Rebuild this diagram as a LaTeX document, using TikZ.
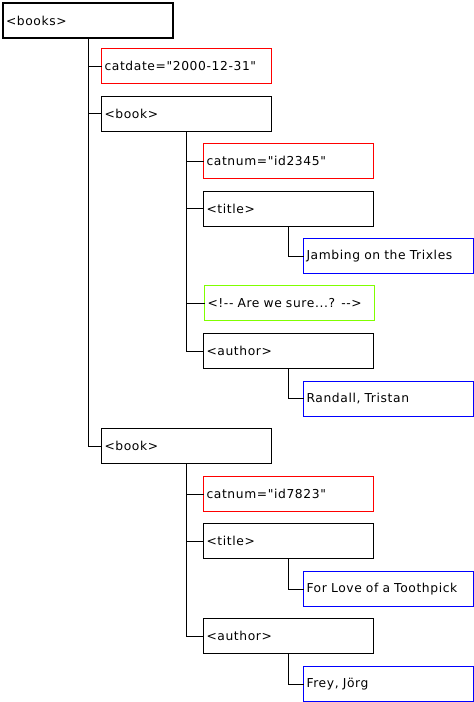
\documentclass[tikz,border=0pt]{standalone}
\usepackage{fontspec}
\newfontfamily\plainfont{DejaVu Sans}[LetterSpace=5]
\definecolor{attrred}{RGB}{255,0,0}
\definecolor{textblue}{RGB}{0,0,255}
\definecolor{commgreen}{RGB}{128,255,0}
\begin{document}
\begin{tikzpicture}[x=1pt,y=-1pt,
  box/.style={draw=black,line width=1pt,anchor=north west,inner xsep=3pt,inner ysep=0pt,
    text width=164pt,align=left,minimum height=35pt,outer sep=0pt,font=\plainfont\fontsize{12.3}{14}\selectfont},
  rootbox/.style={box,line width=2pt},
  attrbox/.style={box,draw=attrred},
  textbox/.style={box,draw=textblue},
  commbox/.style={box,draw=commgreen},
  link/.style={draw=black,line width=1pt}]
\useasboundingbox[fill=white] (0,0) rectangle (474,702);
\node[rootbox] (books) at (3,3) {<books>};
\node[attrbox] (catdate) at (101.5,48.5) {catdate="2000-12-31"};
\node[box] (book1) at (101.5,96) {<book>};
\node[attrbox] (catnum1) at (203.5,143.5) {catnum="id2345"};
\node[box] (title1) at (203.5,191) {<title>};
\node[textbox] (jamb) at (303.5,238.5) {Jambing on the Trixles};
\node[commbox] (comm) at (204.5,285.5) {<!-- Are we sure...? -->};
\node[box] (author1) at (203.5,333.5) {<author>};
\node[textbox] (randall) at (303.5,381) {Randall, Tristan};
\node[box] (book2) at (101.5,428.5) {<book>};
\node[attrbox] (catnum2) at (203.5,476.5) {catnum="id7823"};
\node[box] (title2) at (203.5,523.5) {<title>};
\node[textbox] (love) at (303.5,571.5) {For Love of a Toothpick};
\node[box] (author2) at (203.5,618.5) {<author>};
\node[textbox] (frey) at (303.5,666.5) {Frey, Jörg};
\draw[link] (books.south) |- (catdate.west);
\draw[link] (books.south) |- (book1.west);
\draw[link] (books.south) |- (book2.west);
\draw[link] (book1.south) |- (catnum1.west);
\draw[link] (book1.south) |- (title1.west);
\draw[link] (book1.south) |- (comm.west);
\draw[link] (book1.south) |- (author1.west);
\draw[link] (title1.south) |- (jamb.west);
\draw[link] (author1.south) |- (randall.west);
\draw[link] (book2.south) |- (catnum2.west);
\draw[link] (book2.south) |- (title2.west);
\draw[link] (book2.south) |- (author2.west);
\draw[link] (title2.south) |- (love.west);
\draw[link] (author2.south) |- (frey.west);
\end{tikzpicture}
\end{document}
